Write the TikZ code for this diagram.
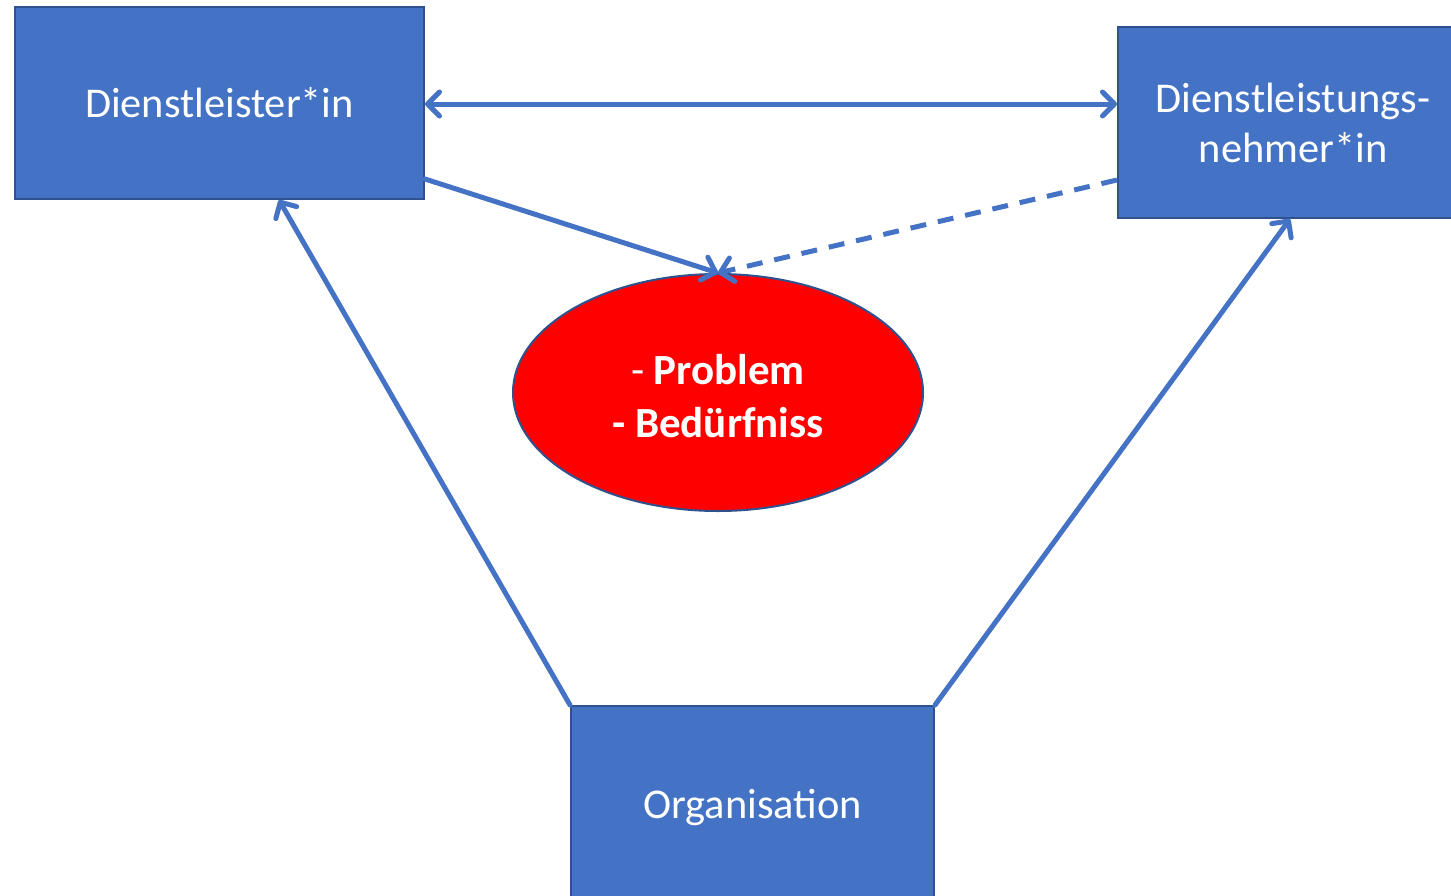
\documentclass[tikz,border=0pt]{standalone}
\usepackage{fontspec}
\setmainfont{Carlito}
\usetikzlibrary{arrows.meta,shapes.geometric}
\definecolor{boxblue}{HTML}{4472C4}
\definecolor{boxedge}{HTML}{2F528F}
\definecolor{probred}{HTML}{FF0000}
\begin{document}
\begin{tikzpicture}[x=0.5pt,y=-0.5pt,
  actor/.style={draw=boxedge,line width=1pt,fill=boxblue,text=white,font=\fontsize{21.2}{25}\selectfont,align=center,inner sep=0pt},
  link/.style={draw=boxblue,line width=2.5pt,line cap=round},
  tip/.style={-{Straight Barb[length=6pt,width=12pt,line width=2.5pt,round]}},
  bothtip/.style={{Straight Barb[length=6pt,width=12pt,line width=2.5pt,round]}-{Straight Barb[length=6pt,width=12pt,line width=2.5pt,round]}}
]
\useasboundingbox (0,0) rectangle (1451,895);
\node[actor,minimum width=204.5pt,minimum height=96pt] (dl) at (219.5,103) {Dienstleister*in};
\node[actor,minimum width=175pt,minimum height=95.5pt] (dln) at (1293,122.5) {Dienstleistungs-\\nehmer*in};
\node[actor,minimum width=181.5pt,minimum height=101pt] (org) at (752.5,807) {Organisation};
\node[ellipse,draw=boxedge,line width=1pt,fill=probred,inner sep=0pt,minimum width=205pt,minimum height=118.5pt] (ell) at (718,392.5) {};
\node[text=white,align=center,font=\fontsize{21.5}{26.5}\selectfont,inner sep=0pt] (elltext) at (718,396.5) {{-} \textbf{Problem}\\\textbf{- Bedürfniss}};
\draw[link,bothtip] (dl.east) ++(0,-0.5pt) coordinate (a1) -- (a1 -| dln.west);
\draw[link,tip] ([yshift=10.5pt]dl.south east) -- (ell.north);
\draw[link,tip,dash pattern=on 8pt off 6pt,line cap=butt] ([yshift=19.5pt]dln.south west) -- (ell.north);
\draw[link,tip] (org.north west) -- ([xshift=29.75pt]dl.south);
\draw[link,tip] (org.north east) -- ([xshift=-1.5pt]dln.south);
\end{tikzpicture}
\end{document}
